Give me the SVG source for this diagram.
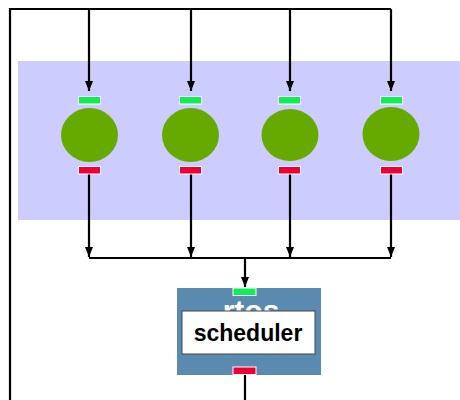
<svg xmlns="http://www.w3.org/2000/svg" width="460" height="400" viewBox="0 0 460 400">
<style>
.w{fill:none;stroke:#000;stroke-width:2.2}
.in{fill:#11ee55;stroke:#fff;stroke-width:1}
.out{fill:#ee0033;stroke:#fff;stroke-width:1}
.task{fill:#66aa00}
</style>
<defs>
<marker id="a" markerWidth="10" markerHeight="8" refX="10" refY="4" orient="auto" markerUnits="userSpaceOnUse" viewBox="0 0 10 8">
<path d="M0,0 L10,4 L0,8 Z" fill="#000"/>
</marker>
</defs>
<rect id="bg" x="18" y="61" width="442" height="159" fill="#ccccff"/>
<g id="connectors">
<path class="w" d="M10,400 V9 H391"/>
<path class="w" d="M89,9 V91" marker-end="url(#a)"/>
<path class="w" d="M191,9 V91" marker-end="url(#a)"/>
<path class="w" d="M290,9 V91" marker-end="url(#a)"/>
<path class="w" d="M391,9 V91" marker-end="url(#a)"/>
<path class="w" d="M89,174 V257" marker-end="url(#a)"/>
<path class="w" d="M191,174 V257" marker-end="url(#a)"/>
<path class="w" d="M290,174 V257" marker-end="url(#a)"/>
<path class="w" d="M391,174 V257" marker-end="url(#a)"/>
<path class="w" d="M89,258 H391"/>
<path class="w" d="M245,258 V287" marker-end="url(#a)"/>
<path class="w" d="M245,375 V400"/>
</g>
<g id="task1"><rect class="in" x="78.5" y="96.5" width="22" height="7.5"/><ellipse class="task" cx="89.5" cy="135" rx="28.5" ry="27"/><rect class="out" x="78.5" y="166.5" width="22" height="7.5"/></g>
<g id="task2"><rect class="in" x="179.5" y="96.5" width="22" height="7.5"/><ellipse class="task" cx="190.5" cy="135" rx="28.5" ry="27"/><rect class="out" x="179.5" y="166.5" width="22" height="7.5"/></g>
<g id="task3"><rect class="in" x="278.5" y="96.5" width="22" height="7.5"/><ellipse class="task" cx="290" cy="135" rx="28.5" ry="26"/><rect class="out" x="278.5" y="166.5" width="22" height="7.5"/></g>
<g id="task4"><rect class="in" x="380.5" y="96.5" width="22" height="7.5"/><ellipse class="task" cx="391" cy="134" rx="28.5" ry="27"/><rect class="out" x="380.5" y="166.5" width="22" height="7.5"/></g>
<g id="rtos">
<rect x="177" y="288" width="144" height="87" fill="#5a8ab0"/>
<text x="251" y="321" text-anchor="middle" font-family="Liberation Sans, Arial, sans-serif" font-weight="bold" font-size="30" fill="#fff">rtos</text>
<rect class="in" x="233" y="288" width="23" height="7.5"/>
<rect class="out" x="233" y="367" width="23" height="7.5"/>
</g>
<g id="scheduler">
<rect x="182" y="311" width="133" height="43" fill="#fff" stroke="#444" stroke-width="1"/>
<text x="248" y="341" text-anchor="middle" font-family="Liberation Sans, Arial, sans-serif" font-weight="bold" font-size="23" fill="#000">scheduler</text>
</g>
</svg>
